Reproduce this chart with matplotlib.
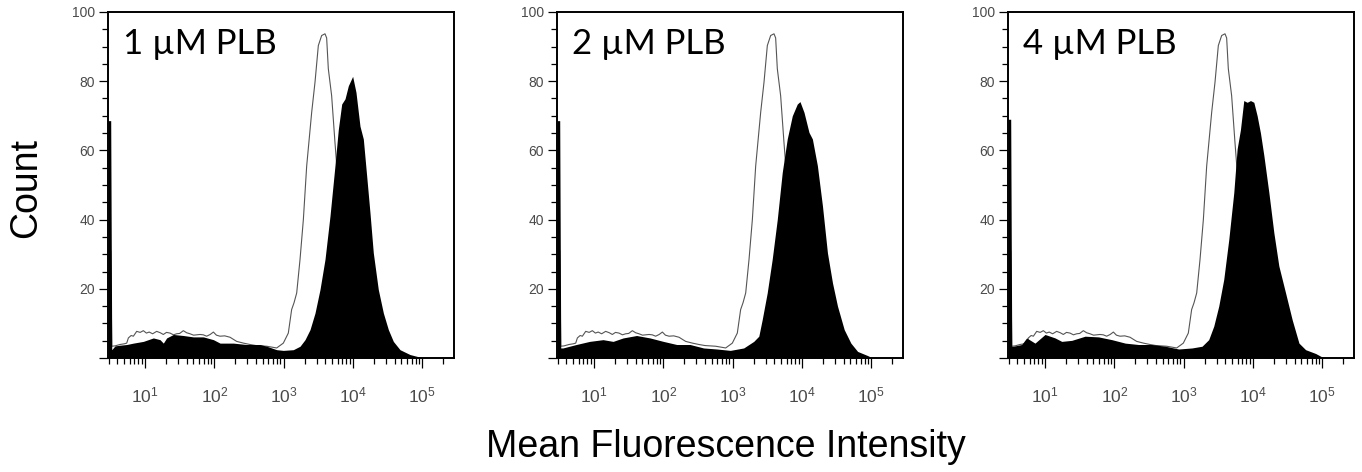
import numpy as np
import matplotlib.pyplot as plt
from matplotlib.ticker import FixedLocator, LogLocator, MultipleLocator, NullFormatter

plt.rcParams['font.family'] = ['Liberation Sans', 'DejaVu Sans']
plt.rcParams['mathtext.fontset'] = 'custom'
plt.rcParams['mathtext.rm'] = 'Liberation Sans'
plt.rcParams['mathtext.default'] = 'regular'

panel_labels = ['1 µM PLB', '2 µM PLB', '4 µM PLB']

# unstained control (outline), log10 of intensity vs count - same in all panels
ctrl_log = [0.470, 0.505, 0.520, 0.567, 0.639, 0.700, 0.736, 0.760, 0.800, 0.832, 0.880, 0.930,
            0.976, 1.020, 1.060, 1.110, 1.168, 1.220, 1.264, 1.310, 1.361, 1.410, 1.457, 1.500,
            1.553, 1.600, 1.649, 1.700, 1.793, 1.840, 1.889, 1.940, 1.986, 2.030, 2.082, 2.150,
            2.226, 2.322, 2.420, 2.514, 2.600, 2.755, 2.899, 2.995, 3.067, 3.115, 3.150, 3.188,
            3.236, 3.284, 3.332, 3.404, 3.452, 3.500, 3.548, 3.596, 3.620, 3.644, 3.692, 3.740,
            3.788, 3.850, 3.920, 4.000, 4.100, 4.250, 4.450]
ctrl_count = [31, 31, 3.4, 3.5, 3.9, 4.1, 4.3, 5.8, 6.5, 6.3, 7.7, 7.4,
              7.9, 7.2, 7.5, 7.0, 7.7, 7.3, 6.8, 7.4, 7.2, 6.7, 7.0, 7.1,
              7.9, 7.3, 7.0, 6.6, 6.8, 6.7, 6.3, 6.8, 7.5, 6.6, 6.3, 6.4,
              6.0, 4.8, 4.3, 3.9, 3.6, 3.4, 2.9, 4.3, 7.2, 14, 16, 18.8,
              28.5, 40, 55.5, 71, 79.7, 90.3, 93.2, 93.7, 92.5, 83.6, 75.8, 62.3,
              49.8, 32, 16, 7, 2.5, 0.8, 0]

# stained samples (filled black)
s1_log = [0.470, 0.505, 0.520, 0.567, 0.639, 0.736, 0.832, 0.976, 1.120, 1.216, 1.264, 1.312,
          1.409, 1.553, 1.697, 1.841, 1.986, 2.082, 2.274, 2.466, 2.659, 2.755, 2.899, 2.995,
          3.139, 3.236, 3.308, 3.380, 3.452, 3.524, 3.596, 3.668, 3.740, 3.788, 3.837, 3.885,
          3.933, 3.995, 4.043, 4.101, 4.149, 4.197, 4.245, 4.293, 4.365, 4.438, 4.510, 4.582,
          4.678, 4.822, 4.918, 5.014]
s1_count = [68.6, 68.6, 2.4, 3.5, 3.7, 3.9, 4.3, 4.8, 5.8, 5.3, 4.3, 5.8,
            6.8, 6.5, 6.1, 6.1, 5.3, 4.3, 4.3, 3.9, 3.9, 3.4, 2.4, 2.2,
            2.4, 3.4, 5.3, 8.2, 13, 19.8, 28.5, 41, 55.6, 66, 73.4, 74.9,
            78.7, 81.4, 76.8, 67, 63.3, 52.7, 42, 30.4, 19.8, 13, 8.2, 4.8,
            2.4, 1, 0.5, 0]

s2_log = [0.470, 0.505, 0.520, 0.551, 0.744, 0.937, 1.130, 1.275, 1.420, 1.614, 1.807, 2.000,
          2.193, 2.386, 2.580, 2.773, 2.966, 3.159, 3.304, 3.377, 3.425, 3.498, 3.570, 3.643,
          3.715, 3.787, 3.860, 3.932, 3.971, 4.029, 4.101, 4.150, 4.222, 4.295, 4.367, 4.440,
          4.512, 4.609, 4.705, 4.802, 4.947, 5.019]
s2_count = [68.6, 68.6, 2.9, 2.9, 3.9, 4.8, 5.3, 4.8, 5.8, 6.5, 5.8, 4.8,
            3.9, 3.9, 2.9, 2.6, 2.2, 2.9, 4.8, 6.3, 11, 18.8, 28.5, 40,
            53.6, 63.3, 70, 73.4, 74.1, 71, 65.2, 63.3, 55.6, 44, 30.4, 21.7,
            15, 8.2, 4.3, 1.9, 0.7, 0]

s3_log = [0.470, 0.505, 0.520, 0.542, 0.663, 0.735, 0.855, 1.000, 1.145, 1.241, 1.386, 1.578,
          1.771, 1.964, 2.157, 2.349, 2.542, 2.735, 2.928, 3.120, 3.265, 3.361, 3.434, 3.506,
          3.578, 3.651, 3.723, 3.771, 3.819, 3.867, 3.916, 3.964, 4.012, 4.060, 4.108, 4.157,
          4.229, 4.301, 4.373, 4.470, 4.566, 4.663, 4.759, 4.904, 5.024]
s3_count = [69, 69, 3.4, 3.4, 3.9, 5.8, 4.3, 6.8, 5.8, 4.8, 5.1, 6.3,
            6.1, 5.3, 4.3, 3.9, 3.9, 3.4, 2.6, 2.9, 3.4, 5.3, 9.2, 15,
            22.7, 34.3, 47.8, 60.4, 66, 74.4, 73.9, 74.4, 73.9, 70, 65, 58.5,
            47.8, 36.2, 26.6, 18.8, 11, 4.3, 2.4, 1.3, 0]

samples = [(s1_log, s1_count), (s2_log, s2_count), (s3_log, s3_count)]

W, H = 1362, 472
fig = plt.figure(figsize=(W / 100, H / 100), dpi=100)

lefts = [108, 557, 1008]
for left, lab, (s_log, s_count) in zip(lefts, panel_labels, samples):
    ax = fig.add_axes([left / W, (H - 358) / H, 346 / W, 346 / H])
    ax.plot(10 ** np.array(ctrl_log), ctrl_count, color='#555555', lw=0.8, zorder=2)
    ax.fill_between(10 ** np.array(s_log), s_count, 0, color='black', lw=0, zorder=3)

    ax.set_xscale('log')
    ax.set_xlim(10 ** 0.466, 10 ** 5.457)
    ax.set_ylim(0, 100)

    ax.xaxis.set_major_locator(FixedLocator([1e1, 1e2, 1e3, 1e4, 1e5]))
    ax.xaxis.set_minor_locator(LogLocator(base=10, subs=range(2, 10), numticks=20))
    ax.xaxis.set_minor_formatter(NullFormatter())
    ax.set_xticklabels([r'$10^{%d}$' % k for k in range(1, 6)])

    ax.yaxis.set_major_locator(FixedLocator([0, 20, 40, 60, 80, 100]))
    ax.yaxis.set_minor_locator(MultipleLocator(5))
    ax.set_yticklabels(['', '20', '40', '60', '80', '100'])

    ax.tick_params(axis='x', which='major', length=7, width=0.9, pad=13,
                   labelsize=12.5, labelcolor='#4a4a4a')
    ax.tick_params(axis='x', which='minor', length=4.5, width=0.9)
    ax.tick_params(axis='y', which='major', length=6.5, width=0.9, pad=3,
                   labelsize=10, labelcolor='#4a4a4a')
    ax.tick_params(axis='y', which='minor', length=4, width=0.9)
    for sp in ax.spines.values():
        sp.set_linewidth(1.4)

    ax.text(0.043, 0.879, lab, transform=ax.transAxes, fontsize=25,
            family=['Lato', 'DejaVu Sans'], va='baseline', ha='left')

fig.text(26 / W, 1 - 188 / H, 'Count', rotation=90, fontsize=27,
         ha='center', va='center')
fig.text(726 / W, 1 - 457 / H, 'Mean Fluorescence Intensity', fontsize=27,
         ha='center', va='baseline')
# top of the next figure's panel letters, cut off by the crop
fig.text(15 / W, -31 / H, 'CD', fontsize=27, ha='left', va='baseline', color='#333333')

fig.savefig('out.png', dpi=100)
